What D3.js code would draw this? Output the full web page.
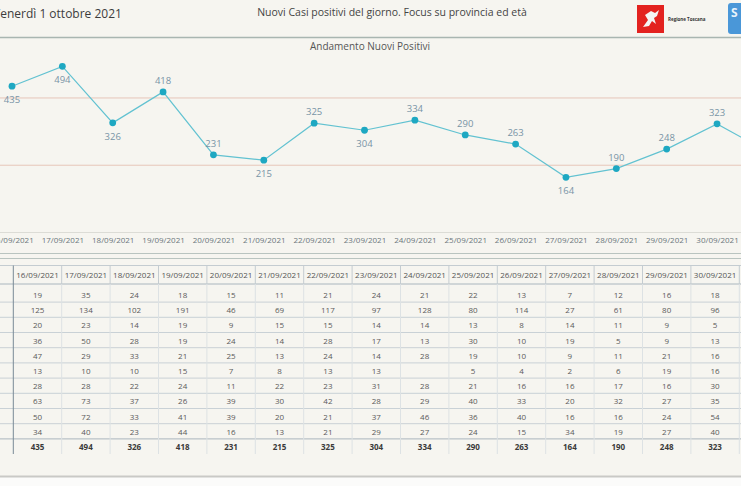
<!DOCTYPE html>
<html>
<head>
<meta charset="utf-8">
<script src="https://cdn.jsdelivr.net/npm/d3@7"></script>
<style>
  html, body { margin: 0; padding: 0; background: #f6f5f0; overflow: hidden; }
  text { font-family: "Open Sans", "Noto Sans", sans-serif; }
</style>
</head>
<body>
<svg width="741" height="486"></svg>
<script>
'use strict';
// data
var dates = ['16/09/2021','17/09/2021','18/09/2021','19/09/2021','20/09/2021',
             '21/09/2021','22/09/2021','23/09/2021','24/09/2021','25/09/2021',
             '26/09/2021','27/09/2021','28/09/2021','29/09/2021','30/09/2021'];
var provinces = ['Arezzo','Firenze','Grosseto','Livorno','Lucca',
                 'Massa Carrara','Pisa','Pistoia','Prato','Siena'];
var arezzo   = [19,35,24,18,15,11,21,24,21,22,13,7,12,16,18];
var firenze  = [125,134,102,191,46,69,117,97,128,80,114,27,61,80,96];
var grosseto = [20,23,14,19,9,15,15,14,14,13,8,14,11,9,5];
var livorno  = [36,50,28,19,24,14,28,17,13,30,10,19,5,9,13];
var lucca    = [47,29,33,21,25,13,24,14,28,19,10,9,11,21,16];
var massa    = [13,10,10,15,7,8,13,13,null,5,4,2,6,19,16];
var pisa     = [28,28,22,24,11,22,23,31,28,21,16,16,17,16,30];
var pistoia  = [63,73,37,26,39,30,42,28,29,40,33,20,32,27,35];
var prato    = [50,72,33,41,39,20,21,37,46,36,40,16,16,24,54];
var siena    = [34,40,23,44,16,13,21,29,27,24,15,34,19,27,40];
// the line runs on past the right edge to the next day (estimated)
var nextDate = '01/10/2021';
var nextTotal = 240;
var refLines = [200, 400];

var rows = [arezzo, firenze, grosseto, livorno, lucca, massa, pisa, pistoia, prato, siena];
var totals = dates.map(function(d, i){ return d3.sum(rows, function(r){ return r[i]; }); });
var lineData = dates.map(function(d, i){ return {date: d, value: totals[i]}; });
lineData.push({date: nextDate, value: nextTotal});

var svg = d3.select('svg');
var W = 741;

// backgrounds
svg.append('rect').attr('width', W).attr('height', 486).attr('fill', '#f6f5f0');
svg.append('rect').attr('y', 477).attr('width', W).attr('height', 9).attr('fill', '#fbfbfa');
svg.append('line').attr('x1', 0).attr('x2', W).attr('y1', 476.5).attr('y2', 476.5)
   .attr('stroke', '#c9c9c6').attr('stroke-width', 2);

// header
svg.append('text').attr('x', -7).attr('y', 18).attr('font-size', 12).attr('fill', '#3c3c3c')
   .text('Venerdì 1 ottobre 2021');
svg.append('text').attr('x', 392).attr('y', 16).attr('text-anchor', 'middle')
   .attr('font-size', 10.5).attr('fill', '#444')
   .text('Nuovi Casi positivi del giorno. Focus su provincia ed età');
svg.append('line').attr('x1', 0).attr('x2', W).attr('y1', 37.5).attr('y2', 37.5)
   .attr('stroke', '#a9b6b1').attr('stroke-width', 1.5);

// logos
var logo = svg.append('g');
logo.append('rect').attr('x', 637).attr('y', 5).attr('width', 27).attr('height', 28).attr('fill', '#e3221f');
logo.append('path').attr('d', 'M643,27 L648,20 L645,15 L651,11 L655,13 L659,10 L657,16 L654,18 L656,24 L652,21 L649,26 Z')
   .attr('fill', '#f4f4f4');
logo.append('text').attr('x', 668).attr('y', 21).attr('font-size', 4.5).attr('font-weight', 'bold')
   .attr('fill', '#333').text('Regione Toscana');
logo.append('rect').attr('x', 728).attr('y', 3).attr('width', 20).attr('height', 31).attr('rx', 3).attr('fill', '#4a97d8');
logo.append('text').attr('x', 731).attr('y', 17).attr('font-size', 12).attr('font-weight', 'bold')
   .attr('fill', '#e8f2fb').text('S');

// line chart
svg.append('text').attr('x', 370).attr('y', 50).attr('text-anchor', 'middle')
   .attr('font-size', 10).attr('fill', '#555').text('Andamento Nuovi Positivi');

var x = d3.scalePoint().domain(lineData.map(function(d){ return d.date; })).range([12, 12 + 15 * 50.36]);
var y = d3.scaleLinear().domain([0, 600]).range([232.5, 30.7]);

svg.selectAll('.ref').data(refLines).enter().append('line')
   .attr('x1', 0).attr('x2', W)
   .attr('y1', function(d){ return y(d); }).attr('y2', function(d){ return y(d); })
   .attr('stroke', '#e6c6b9').attr('stroke-width', 1);

var xAxis = svg.append('g').attr('transform', 'translate(0,' + y(0) + ')')
   .call(d3.axisBottom(x).tickSize(0).tickPadding(5));
xAxis.select('.domain').attr('stroke', '#dcdcd6').attr('d', 'M0,0H' + W);
xAxis.selectAll('text').attr('font-size', 8).attr('fill', '#6b767c')
   .attr('font-family', '"Open Sans", sans-serif');

var line = d3.line().x(function(d){ return x(d.date); }).y(function(d){ return y(d.value); });
svg.append('path').datum(lineData).attr('d', line)
   .attr('fill', 'none').attr('stroke', '#62c2d1').attr('stroke-width', 1.2);

svg.selectAll('.dot').data(lineData).enter().append('circle')
   .attr('cx', function(d){ return x(d.date); })
   .attr('cy', function(d){ return y(d.value); })
   .attr('r', 3.4).attr('fill', '#1ea8c2');

// label goes under the point for local minima and near the top
function below(d, i){
  var prev = i > 0 ? lineData[i - 1].value : Infinity;
  var next = i < lineData.length - 1 ? lineData[i + 1].value : Infinity;
  return (d.value < prev && d.value < next) || d.value > 425;
}
svg.selectAll('.lbl').data(lineData).enter().append('text')
   .attr('x', function(d){ return x(d.date); })
   .attr('y', function(d, i){ return y(d.value) + (below(d, i) ? 17 : -8); })
   .attr('text-anchor', 'middle').attr('font-size', 9.5).attr('fill', '#7894a6')
   .text(function(d){ return d.value; });

// table
svg.append('line').attr('x1', 0).attr('x2', W).attr('y1', 253.5).attr('y2', 253.5)
   .attr('stroke', '#b9c4c0').attr('stroke-width', 1);
svg.append('line').attr('x1', 0).attr('x2', W).attr('y1', 258.5).attr('y2', 258.5)
   .attr('stroke', '#b9c4c0').attr('stroke-width', 1);

var col = d3.scaleBand().domain(dates).range([13.3, 13.3 + 15 * 48.4]);
var rowIdx = d3.range(rows.length + 1);
var row = d3.scaleBand().domain(rowIdx).range([287.4, 287.4 + 11 * 15.2]);

var tbl = svg.append('g');
// header cells
tbl.append('line').attr('x1', 0).attr('x2', W).attr('y1', 265.5).attr('y2', 265.5).attr('stroke', '#c4ccd1');
tbl.append('line').attr('x1', 0).attr('x2', W).attr('y1', 284).attr('y2', 284).attr('stroke', '#aab6be');
tbl.selectAll('.hd').data(dates).enter().append('text')
   .attr('x', function(d){ return col(d) + col.bandwidth() / 2; })
   .attr('y', 278).attr('text-anchor', 'middle').attr('font-size', 8).attr('fill', '#555')
   .text(function(d){ return d; });
tbl.selectAll('.hsep').data(dates).enter().append('line')
   .attr('x1', function(d){ return col(d) + col.bandwidth(); })
   .attr('x2', function(d){ return col(d) + col.bandwidth(); })
   .attr('y1', 265.5).attr('y2', 284).attr('stroke', '#c4ccd1');

// row separators
tbl.selectAll('.rsep').data(d3.range(1, rows.length + 1)).enter().append('line')
   .attr('x1', 0).attr('x2', W)
   .attr('y1', function(d){ return row(d) - 0.5; }).attr('y2', function(d){ return row(d) - 0.5; })
   .attr('stroke', function(d){ return d === rows.length ? '#aab6be' : '#c9d1d6'; });
// column separators
tbl.selectAll('.csep').data(dates).enter().append('line')
   .attr('x1', function(d){ return col(d) + col.bandwidth(); })
   .attr('x2', function(d){ return col(d) + col.bandwidth(); })
   .attr('y1', 284).attr('y2', 454).attr('stroke', '#dde2e4');
tbl.append('line').attr('x1', 13.3).attr('x2', 13.3).attr('y1', 265.5).attr('y2', 454)
   .attr('stroke', '#7a8a96').attr('stroke-width', 1);

// cell values
rows.concat([totals]).forEach(function(vals, r){
  tbl.selectAll('.c' + r).data(vals).enter().append('text')
     .attr('x', function(d, i){ return col(dates[i]) + col.bandwidth() / 2; })
     .attr('y', row(r) + row.bandwidth() / 2 + 3)
     .attr('text-anchor', 'middle').attr('font-size', 8)
     .attr('font-weight', r === rows.length ? 'bold' : 'normal')
     .attr('fill', r === rows.length ? '#3a3a3a' : '#5a5a5a')
     .text(function(d){ return d === null ? '' : d; });
});
</script>
</body>
</html>
